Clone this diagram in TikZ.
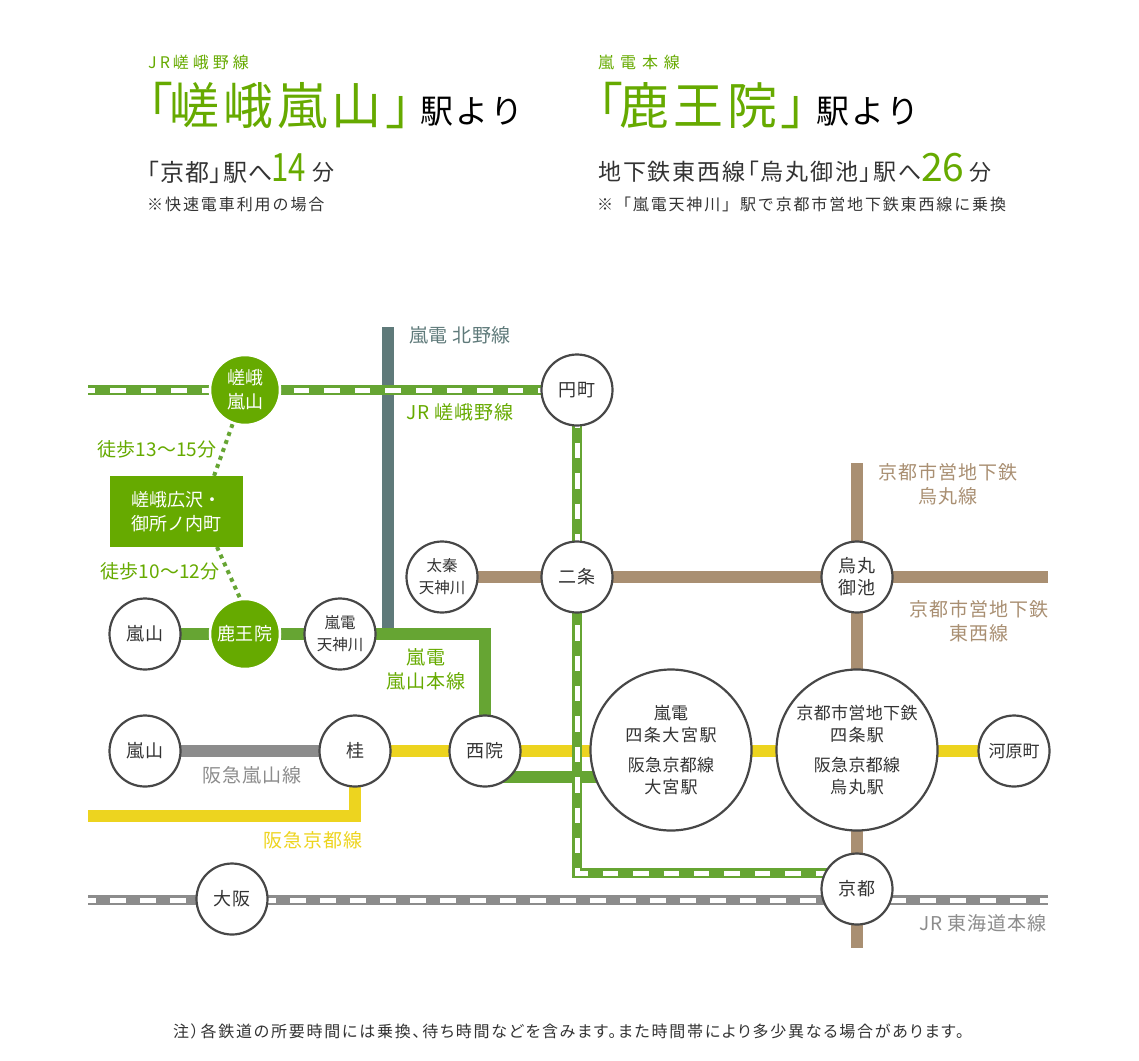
\documentclass[tikz,border=0pt]{standalone}
\usepackage{fontspec}
\usetikzlibrary{backgrounds}
\setmainfont{Noto Sans CJK JP}
\newcommand\ls[1]{\addfontfeature{LetterSpace=#1}}
\newcommand\palt{\addfontfeature{RawFeature=+palt}}
\newcommand\fsz[2]{\fontsize{#1}{#2}\selectfont}
\definecolor{gfill}{HTML}{66AA00}
\definecolor{gline}{HTML}{66A533}
\definecolor{kitano}{HTML}{5F7A7A}
\definecolor{tan}{HTML}{A98F72}
\definecolor{grayl}{HTML}{8C8C8C}
\definecolor{yell}{HTML}{EDD41F}
\definecolor{ink}{HTML}{333333}
\tikzset{
 x=1pt,y=-1pt,
 st/.style={circle,draw=ink!90,line width=2.2pt,fill=white,inner sep=0pt,minimum size=71pt,align=center,text=ink,font=\fsz{18}{22}\ls{1}},
 stsm/.style={st,font=\fsz{15.5}{22}},
 stbig/.style={st,minimum size=161pt,font=\fsz{17}{22.5}\ls{2}},
 stg/.style={circle,draw=white,line width=2.5pt,fill=gfill,inner sep=0pt,minimum size=70pt,align=center,text=white,font=\fsz{18}{24}},
 rail/.style={line width=12pt},
 jrbase/.style={line width=10pt},
 jrdash/.style={line width=5pt,white,dash pattern=on 15.5pt off 14.9pt},
 lab/.style={inner sep=0pt,align=center,font=\fsz{19}{24}\ls{5}},
 head/.style={inner sep=0pt,anchor=west},
}
\begin{document}
\begin{tikzpicture}
\useasboundingbox (0,0) rectangle (1139,1060);
% header left
\node[head,text=gfill,font=\fsz{16}{18}\ls{25}] (h1a) at (148,62) {J\kern3pt R\kern3pt 嵯峨野線};
\node[head,text=gfill,font=\fsz{50}{56}\palt\ls{8}] (h1b) at (147,105) {「\kern-3pt 嵯峨嵐山\kern5pt 」\kern-16pt};
\node[head,text=black,font=\fsz{33}{36}\ls{8}] (h1c) at (420,112) {駅より};
\node[head,text=ink,font=\fsz{24}{26}\palt\ls{4}] (h1d) at (147,172) {「京都」駅へ};
\node[head,text=gfill,font=\fsz{39}{44}] (h1e) at (271,168) {\scalebox{0.8}[1]{14}};
\node[head,text=ink,font=\fsz{22}{24}] (h1f) at (312,172) {分};
\node[head,text=ink,font=\fsz{16}{18}\ls{12}] (h1g) at (147,204) {※快速電車利用の場合};
% header right
\node[head,text=gfill,font=\fsz{16}{18}\ls{37}] (h2a) at (598,62) {嵐電本線};
\node[head,text=gfill,font=\fsz{50}{56}\palt\ls{8}] (h2b) at (597,105) {「\kern-3pt 鹿王院」\kern-16pt};
\node[head,text=black,font=\fsz{33}{36}\ls{8}] (h2c) at (816,112) {駅より};
\node[head,text=ink,font=\fsz{23}{26}\palt\ls{8}] (h2d) at (598,172) {地下鉄東西線「烏丸御池」駅へ};
\node[head,text=gfill,font=\fsz{39}{44}] (h2e) at (921,168) {26};
\node[head,text=ink,font=\fsz{22}{24}] (h2f) at (969,172) {分};
\node[head,text=ink,font=\fsz{16}{18}\ls{11.6}] (h2g) at (597,204) {※「嵐電天神川」駅で京都市営地下鉄東西線に乗換};
% stations
\node[stg] (sagaA) at (245,390) {嵯峨\\嵐山};
\node[st] (enmachi) at (577,390) {円町};
\node[st] (nijo) at (577,577) {二条};
\node[stsm] (uzumasa) at (442,577) {太秦\\天神川};
\node[st] (oike) at (857,577) {烏丸\\御池};
\node[stg,font=\fsz{18}{24}\ls{1}] (rokuo) at (245,634) {鹿王院};
\node[st] (arashiA) at (145,634) {嵐山};
\node[stsm] (tenjin) at (340,634) {嵐電\\天神川};
\node[st] (arashiB) at (145,751) {嵐山};
\node[st] (katsura) at (355,751) {桂};
\node[st] (sain) at (485,751) {西院};
\node[stbig] (omiya) at (671,750) {嵐電\\{\ls{9}四条大宮駅}\\[7pt]阪急京都線\\{\ls{6}大宮駅}};
\node[stbig] (shijo) at (857,750) {京都市営地下鉄\\{\ls{8}四条駅}\\[7pt]阪急京都線\\{\ls{8}烏丸駅}};
\node[st,font=\fsz{17}{22}] (kawara) at (1014,751) {河原町};
\node[st] (osaka) at (232,899) {大阪};
\node[st] (kyoto) at (857,889) {京都};
\node[fill=gfill,draw=none,minimum width=133pt,minimum height=71pt,inner sep=0pt,align=center,text=white,font=\fsz{18}{24}] (box) at (176.5,511.5) {嵯峨広沢・\\御所ノ内町};
% free ends
\coordinate (kitanoT) at (388,327);
\coordinate (kitanoB) at (388,634);
\coordinate (sagaW) at (88,390);
\coordinate (corner) at (577,873);
\coordinate (kyotoIn) at (857,873);
\coordinate (ranTurn) at (485,634);
\coordinate (sainE) at (485,777);
\coordinate (omiyaW) at (671,777);
\coordinate (yTurn) at (355,816);
\coordinate (yW) at (88,816);
\coordinate (karaT) at (857,463);
\coordinate (karaB) at (857,948);
\coordinate (tozaiE) at (1048,577);
\coordinate (tokW) at (88,900);
\coordinate (tokE) at (1048,900);
\coordinate (boxT) at (214,476);
\coordinate (boxB) at (217,547);
\begin{scope}[on background layer]
 \draw[rail,kitano] (kitanoT) -- (kitanoB);
 \draw[rail,tan] (uzumasa.center) -- (tozaiE);
 \draw[rail,tan] (karaT) -- (karaB);
 \draw[rail,grayl] (arashiB.center) -- (katsura.center);
 \draw[rail,yell] (katsura.center) -- (kawara.center);
 \draw[rail,yell] (katsura.center) -- (yTurn) -- (yW);
 \draw[rail,gline] (arashiA.center) -- (ranTurn) -- (sain.center);
 \draw[rail,gline] (sainE) -- (omiyaW);
 \draw[jrbase,grayl] (tokW) -- (tokE);
 \draw[jrdash,dash phase=8pt,dash pattern=on 15.7pt off 14.3pt] (tokW) -- (tokE);
 \draw[jrbase,gline] (sagaW) -- (enmachi.center);
 \draw[jrdash,dash pattern=on 15.6pt off 15pt,dash phase=8.6pt] (sagaW) -- (enmachi.center);
 \draw[jrbase,gline] (enmachi.center) -- (corner) -- (kyotoIn);
 \draw[jrdash,dash pattern=on 15.4pt off 15pt,dash phase=8pt] (enmachi.center) -- (corner) -- (kyotoIn);
 \draw[gline,line width=4pt,dash pattern=on 4pt off 4.5pt] (sagaA.250) -- (boxT);
 \draw[gline,line width=4pt,dash pattern=on 4pt off 4.5pt] (boxB) -- (rokuo.98);
\end{scope}
% line labels
\node[lab,text=kitano,font=\fsz{19}{24}\ls{3}] (lKitano) at (460,335) {嵐電 北野線};
\node[lab,text=gfill,font=\fsz{19}{24}\ls{4}] (lSaga) at (460,412) {JR 嵯峨野線};
\node[lab,text=gfill,font=\fsz{19}{24}] (w1) at (157,449) {徒歩13〜15分};
\node[lab,text=gfill,font=\fsz{19}{24}] (w2) at (160,571) {徒歩10〜12分};
\node[lab,text=gfill] (lRan) at (426,669) {嵐電\\嵐山本線};
\node[lab,text=tan] (lKara) at (948,484) {京都市営地下鉄\\烏丸線};
\node[lab,text=tan] (lTozai) at (979,621) {京都市営地下鉄\\東西線};
\node[lab,text=grayl] (lHkA) at (252,775) {阪急嵐山線};
\node[lab,text=yell] (lHkK) at (313,840) {阪急京都線};
\node[lab,text=grayl,font=\fsz{19}{24}\ls{4}] (lTok) at (983,923) {JR 東海道本線};
\node[inner sep=0pt,text=ink,font=\fsz{16}{18}\palt\ls{11}] (note) at (568.5,1031) {注）各鉄道の所要時間には乗換、待ち時間などを含みます。また時間帯により多少異なる場合があります。};
\end{tikzpicture}
\end{document}
